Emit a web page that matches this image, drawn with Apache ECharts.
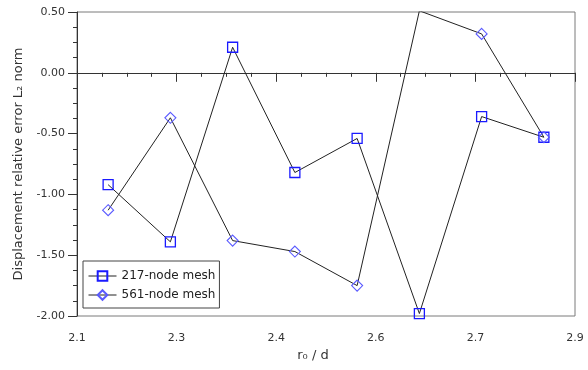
<!DOCTYPE html>
<html>
<head>
<meta charset="utf-8">
<script src="https://cdn.jsdelivr.net/npm/echarts@6/dist/echarts.min.js"></script>
<style>
  html, body { margin: 0; padding: 0; background: #fff; }
  #chart { width: 588px; height: 370px; }
</style>
</head>
<body>
<div id="chart"></div>
<script>
// r0 / d positions
const xValues = [2.15, 2.25, 2.35, 2.45, 2.55, 2.65, 2.75, 2.85]
// displacement relative error, L2 norm
const mesh217 = [-0.92, -1.39, 0.21, -0.82, -0.54, -1.98, -0.36, -0.53]
const mesh561 = [-1.13, -0.37, -1.38, -1.47, -1.75, 0.51, 0.32, -0.53]
const seriesNames = ['217-node mesh', '561-node mesh']

const font = 'DejaVu Sans'
const chart = echarts.init(document.getElementById('chart'))

const pairs = vals => xValues.map((x, i) => [x, vals[i]])

chart.setOption({
  animation: false,
  textStyle: { fontFamily: font },
  grid: {
    left: 77, right: 13, top: 12, bottom: 54,
    show: true,
    borderColor: '#7a7a7a',
    borderWidth: 1
  },
  legend: {
    orient: 'vertical',
    left: 83,
    top: 261,
    itemWidth: 28,
    itemHeight: 12,
    itemGap: 7,
    padding: [9, 4, 7, 5],
    backgroundColor: '#fff',
    borderColor: '#444',
    borderWidth: 1,
    borderRadius: 0,
    lineStyle: { color: '#222', width: 1 },
    textStyle: { fontFamily: font, fontSize: 12, color: '#222' },
    data: seriesNames
  },
  xAxis: {
    type: 'value',
    min: 2.1,
    max: 2.9,
    interval: 0.16,
    name: 'r\u2080 / d',
    nameLocation: 'middle',
    nameGap: 33,
    nameTextStyle: { fontFamily: font, fontSize: 13, color: '#333', padding: [0, 26, 0, 0] },
    axisLine: { lineStyle: { color: '#333', width: 1 } },
    axisTick: { length: 9, lineStyle: { color: '#333' } },
    minorTick: { show: true, splitNumber: 4, length: 4, lineStyle: { color: '#333' } },
    splitLine: { show: false },
    axisLabel: {
      margin: 17,
      fontSize: 11,
      color: '#333',
      formatter: v => v.toFixed(1)
    }
  },
  yAxis: {
    type: 'value',
    min: -2,
    max: 0.5,
    interval: 0.5,
    name: 'Displacement relative error L\u2082 norm',
    nameLocation: 'middle',
    nameGap: 52,
    nameTextStyle: { fontFamily: font, fontSize: 13, color: '#333' },
    axisLine: { lineStyle: { color: '#333', width: 1 } },
    axisTick: { length: 9, lineStyle: { color: '#333' } },
    minorTick: { show: true, splitNumber: 4, length: 4, lineStyle: { color: '#333' } },
    splitLine: { show: false },
    axisLabel: {
      margin: 12,
      fontSize: 11,
      color: '#333',
      formatter: v => v.toFixed(2)
    }
  },
  series: [
    {
      name: seriesNames[0],
      type: 'line',
      data: pairs(mesh217),
      symbol: 'rect',
      symbolSize: 10,
      lineStyle: { color: '#222', width: 1 },
      itemStyle: { color: 'rgba(0,0,0,0)', borderColor: '#1a1aff', borderWidth: 1.3 }
    },
    {
      name: seriesNames[1],
      type: 'line',
      data: pairs(mesh561),
      symbol: 'diamond',
      symbolSize: 11,
      lineStyle: { color: '#222', width: 1 },
      itemStyle: { color: 'rgba(0,0,0,0)', borderColor: '#5a5aff', borderWidth: 1.1 }
    }
  ]
})
</script>
</body>
</html>
